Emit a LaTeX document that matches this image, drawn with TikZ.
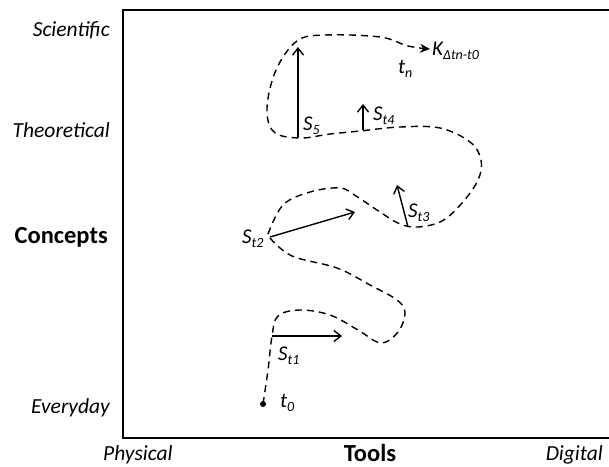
\documentclass[tikz,border=0pt]{standalone}
\usepackage{fontspec}
\setmainfont{Carlito}
\usetikzlibrary{arrows.meta}

% italic symbol with a lowered italic subscript
\newcommand{\symsub}[2]{\textit{#1}\raisebox{-0.45ex}{\fontsize{14}{14}\selectfont\itshape #2}}

\begin{document}
\begin{tikzpicture}[x=1pt,y=-1pt,
  axis/.style={line width=2pt},
  route/.style={line width=1.4pt, dash pattern=on 7pt off 5pt},
  vec/.style={line width=1.4pt,-{Straight Barb[length=7pt,width=11pt,line width=1.4pt]}},
  side/.style={font=\fontsize{21.5}{21.5}\selectfont\itshape, anchor=base east, inner sep=0},
  title/.style={font=\fontsize{24.5}{24.5}\selectfont\bfseries, inner sep=0},
  lab/.style={font=\fontsize{21}{21}\selectfont\itshape, anchor=base west, inner sep=0}]

\useasboundingbox (0,0) rectangle (609,466);

% axes
\coordinate (tr) at (609,10);
\coordinate (tl) at (123,10);
\coordinate (bl) at (123,438);
\coordinate (br) at (609,438);
\draw[axis] (tr) -- (tl) -- (bl) -- (br);

% axis labels
\node[side] (sci) at (110,36) {Scientific};
\node[side] (theo) at (110,137) {Theoretical};
\node[side] (every) at (110,413) {Everyday};
\node[title, anchor=base east] (conc) at (108,243) {Concepts};
\node[side, anchor=base west] (phys) at (103,460) {Physical};
\node[title, anchor=base] (tools) at (370,461) {Tools};
\node[side] (dig) at (603,460) {Digital};

% learning route: start point
\coordinate (t0) at (263,404);
\fill (t0) circle (3pt);

% route from t0 to the S_t2 turning point
\draw[route] plot[smooth, tension=0.6] coordinates {
  (263,404) (268,370) (272,336) (278,316) (300,310) (330,315) (358,330)
  (381,343) (398,332) (405,313) (397,300) (370,285) (337,268) (292,256) (270,238)};

% route from S_t2 up to K
\draw[route, -{Stealth[length=10pt,width=9pt]}] plot[smooth, tension=0.6] coordinates {
  (268,234) (283,205) (310,192) (340,188) (356,196) (380,212) (400,224)
  (418,227) (442,221) (462,203) (478,180) (481,160) (470,142) (440,128)
  (400,127) (360,131) (330,134) (300,138) (274,132) (267,108) (276,70)
  (297,41) (325,35) (380,37) (408,46) (430,49)};

% state vectors
\coordinate (s1a) at (272,336);  \coordinate (s1b) at (342,336);
\coordinate (s2a) at (270,237);  \coordinate (s2b) at (355,212);
\coordinate (s3a) at (408,227);  \coordinate (s3b) at (397,185);
\coordinate (s4a) at (363,130);  \coordinate (s4b) at (363,104);
\coordinate (s5a) at (298,137);  \coordinate (s5b) at (298,47);
\draw[vec] (s1a) -- (s1b);
\draw[vec] (s2a) -- (s2b);
\draw[vec] (s3a) -- (s3b);
\draw[vec] (s4a) -- (s4b);
\draw[vec] (s5a) -- (s5b);

% labels along the route
\node[lab] (lt0) at (280,407) {\symsub{t}{0}};
\node[lab] (ls1) at (278,360) {\symsub{S}{t1}};
\node[lab] (ls2) at (242,243) {\symsub{S}{t2}};
\node[lab] (ls3) at (408,217) {\symsub{S}{t3}};
\node[lab] (ls4) at (373,120) {\symsub{S}{t4}};
\node[lab] (ls5) at (303,130) {\symsub{S}{5}};
\node[lab] (ltn) at (398,73) {\symsub{t}{n}};
\node[lab] (lk) at (432,55) {\symsub{K}{Δtn-t0}};
\end{tikzpicture}
\end{document}
